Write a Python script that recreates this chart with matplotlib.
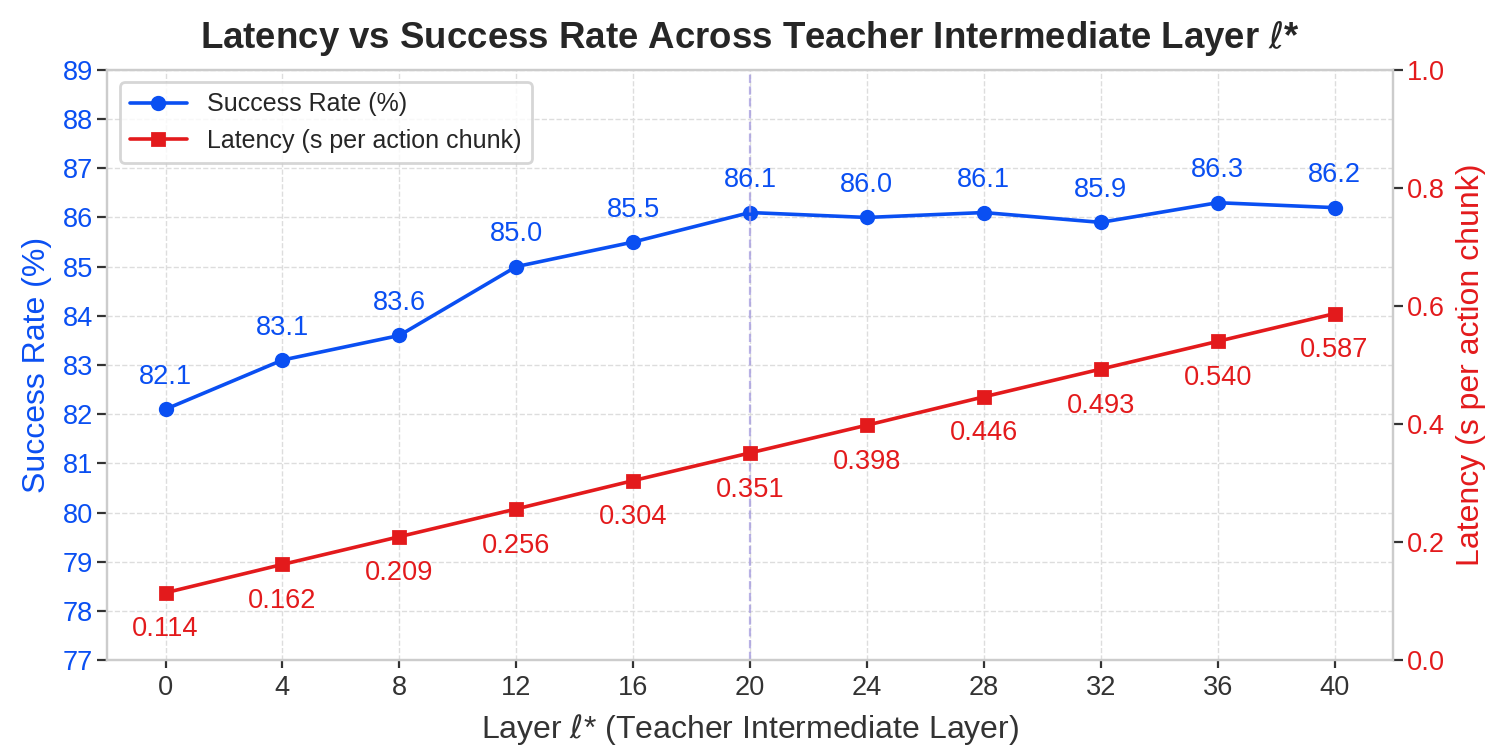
import matplotlib.pyplot as plt
import seaborn as sns

sns.set_style('whitegrid')
plt.rcParams['font.family'] = ['Liberation Sans', 'DejaVu Sans']

# data
layers = [0, 4, 8, 12, 16, 20, 24, 28, 32, 36, 40]
success = [82.1, 83.1, 83.6, 85.0, 85.5, 86.1, 86.0, 86.1, 85.9, 86.3, 86.2]
latency = [0.114, 0.162, 0.209, 0.256, 0.304, 0.351, 0.398, 0.446, 0.493, 0.540, 0.587]
best_layer = 20

blue = '#0a4ff2'
red = '#e31a1c'

fig, ax = plt.subplots(figsize=(7.56, 3.76), dpi=200)
fig.subplots_adjust(left=0.0708, right=0.9213, top=0.907, bottom=0.1223)
ax2 = ax.twinx()

l1, = ax.plot(layers, success, marker='o', color=blue, lw=1.3, ms=4.5, label='Success Rate (%)')
l2, = ax2.plot(layers, latency, marker='s', color=red, lw=1.3, ms=4.5, label='Latency (s per action chunk)')

for x, y in zip(layers, success):
    ax.annotate(f'{y:.1f}', (x, y), xytext=(0, 7), textcoords='offset points',
                ha='center', va='bottom', color=blue, fontsize=9.8)
for x, y in zip(layers, latency):
    ax2.annotate(f'{y:.3f}', (x, y), xytext=(0, -8.5), textcoords='offset points',
                 ha='center', va='top', color=red, fontsize=9.8)

ax.axvline(best_layer, color='#a89fe0', ls='--', lw=0.8, alpha=0.8)

ax.set_xlim(-2, 42)
ax.set_xticks(layers)
ax.set_ylim(77, 89)
ax.set_yticks(range(77, 90))
ax2.set_ylim(0, 1.0)
ax2.set_yticks([0.0, 0.2, 0.4, 0.6, 0.8, 1.0])

ax.grid(True, ls='--', lw=0.5, color='#dddddd')
ax2.grid(False)

ax.set_xlabel('Layer $\\ell$* (Teacher Intermediate Layer)', fontsize=11.5, color='#333333')
ax.set_ylabel('Success Rate (%)', fontsize=11.5, color=blue)
ax2.set_ylabel('Latency (s per action chunk)', fontsize=11.5, color=red)
ax.set_title('Latency vs Success Rate Across Teacher Intermediate Layer $\\ell$*',
             fontsize=13.2, fontweight='bold', color='#262626', pad=8)

ax.tick_params(axis='y', labelcolor=blue, labelsize=9.8, left=True, length=3.5, width=0.8,
               color='#333333', pad=1.5)
ax.tick_params(axis='x', labelsize=9.8, labelcolor='#333333', bottom=True, length=3,
               width=0.8, color='#333333', pad=2.5)
ax2.tick_params(axis='y', labelcolor=red, labelsize=9.8, right=True, length=3.5, width=0.8,
                color='#333333', pad=1.5)

for a in (ax, ax2):
    for s in a.spines.values():
        s.set_color('#cccccc')
        s.set_linewidth(0.8)

ax.legend(handles=[l1, l2], loc='upper left', fontsize=9, frameon=True,
          handlelength=2.3, labelspacing=0.5)

plt.savefig('out.png', dpi=200)
